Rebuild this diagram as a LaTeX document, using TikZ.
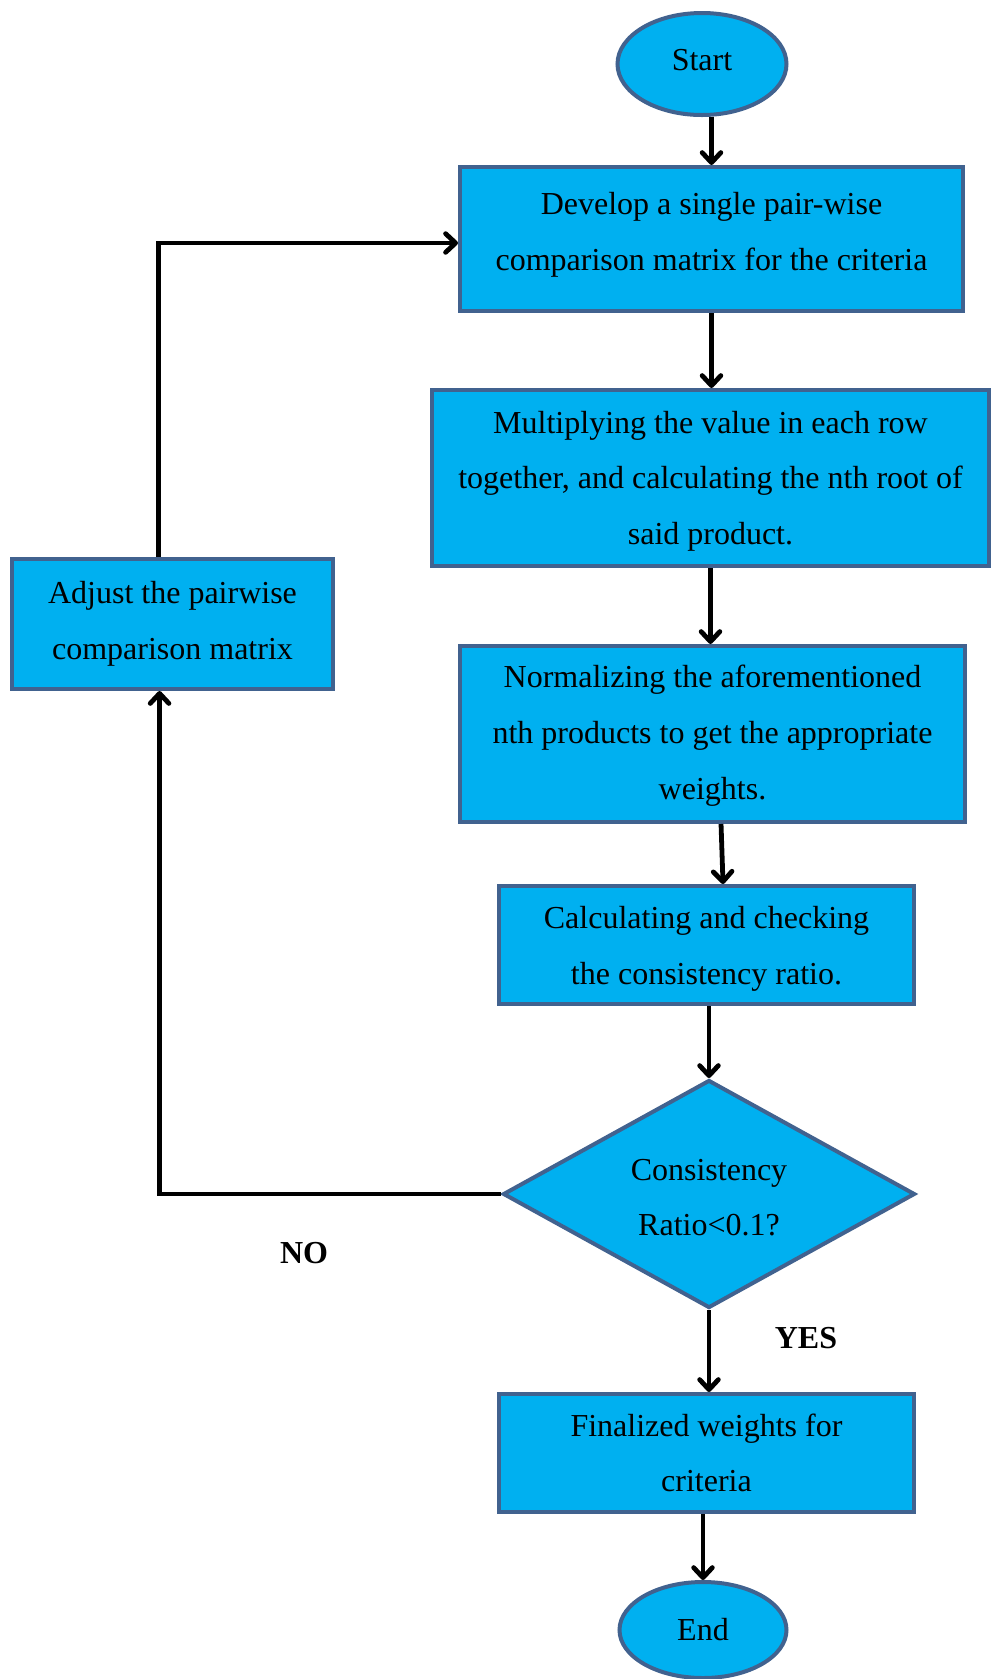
\documentclass[tikz,border=0pt]{standalone}
\usepackage{fontspec}
\setmainfont{Liberation Serif}
\usetikzlibrary{shapes.geometric,arrows.meta,calc}
\definecolor{boxfill}{HTML}{00B0F0}
\definecolor{boxedge}{HTML}{41628F}
\newcommand{\uph}[1]{\rule{0pt}{#1}}
\newcommand{\dnd}[1]{\rule[-#1]{0pt}{0pt}}
\begin{document}
\begin{tikzpicture}[x=0.75pt,y=-0.75pt,
 base/.style={draw=boxedge,fill=boxfill,line width=3pt,inner sep=0pt,align=center,font=\fontsize{24}{41.8}\selectfont},
 proc/.style={base,rectangle},
 term/.style={base,ellipse},
 dec/.style={base,diamond,shape aspect=1.807},
 arr/.style={draw=black,line width=3.6pt,-{Straight Barb[length=7.5pt,width=14pt,round]}},
 lbl/.style={font=\fontsize{24}{28}\selectfont\bfseries}]
\useasboundingbox (0,0) rectangle (991,1679);
\node[term,minimum width=126.75pt,minimum height=76.5pt] (start) at (702,64) {Start\dnd{6.4pt}};
\node[proc,minimum width=377.25pt,minimum height=108pt] (box1) at (711.5,239) {Develop a single pair-wise\\comparison matrix for the criteria\dnd{11.6pt}};
\node[proc,minimum width=417.75pt,minimum height=132pt] (box2) at (710.5,478) {\uph{21.2pt}Multiplying the value in each row\\together, and calculating the nth root of\\said product.};
\node[proc,minimum width=378.75pt,minimum height=132pt] (box3) at (712.5,734) {\uph{19.6pt}Normalizing the aforementioned\\nth products to get the appropriate\\weights.};
\node[proc,minimum width=311.25pt,minimum height=88.5pt] (box4) at (706.5,945) {\uph{22.8pt}Calculating and checking\\the consistency ratio.};
\node[dec,minimum width=309pt,minimum height=171pt] (dec) at (709,1194) {\uph{21.2pt}Consistency\\Ratio<0.1?};
\node[proc,minimum width=311.25pt,minimum height=88.5pt] (box5) at (706.5,1453) {Finalized weights for\\criteria};
\node[term,minimum width=125.25pt,minimum height=72pt] (end) at (703,1630) {End};
\node[proc,minimum width=240.75pt,minimum height=97.5pt] (adjust) at (172.5,624) {Adjust the pairwise\\comparison matrix};
\node[lbl] (no) at (304,1253) {NO};
\node[lbl] (yes) at (806,1338) {YES};
\draw[arr] (start.south -| box1.north) -- (box1.north);
\draw[arr] (box1.south) -- (box2.north -| box1.south);
\draw[arr] (box2.south) -- (box3.north -| box2.south);
\draw[arr] ([xshift=6.4pt]box3.south) -- ([xshift=12.4pt]box4.north);
\draw[arr] (box4.south -| dec.north) -- (dec.north);
\draw[arr] (dec.south) -- (box5.north -| dec.south);
\draw[arr] (box5.south -| end.north) -- (end.north);
\draw[arr] (dec.west) -| ([xshift=-9.7pt]adjust.south);
\draw[arr] ([xshift=-10.5pt]adjust.north) |- ([yshift=-3pt]box1.west);
\end{tikzpicture}
\end{document}
